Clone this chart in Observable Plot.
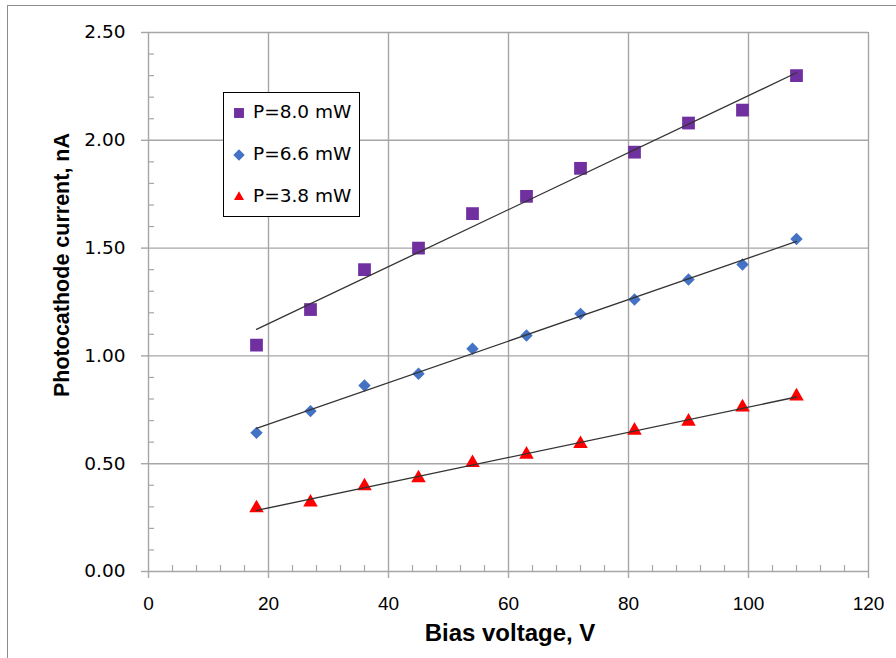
<!DOCTYPE html>
<html><head><meta charset="utf-8">
<script src="https://cdn.jsdelivr.net/npm/d3@7"></script>
<script src="https://cdn.jsdelivr.net/npm/@observablehq/plot@0.6"></script>
<style>
html,body{margin:0;padding:0;background:#fff;overflow:hidden;}
#wrap{position:relative;width:896px;height:658px;overflow:hidden;}
#frame{position:absolute;left:7px;top:5px;width:1000px;height:1000px;border-left:1.5px solid #8c8c8c;border-top:1.5px solid #8c8c8c;}
#legend{position:absolute;left:223px;top:92px;width:135px;height:123px;border:1px solid #000;background:#fff;font-family:"DejaVu Sans",Verdana,sans-serif;font-size:18.5px;color:#000;}
#legend .item{position:absolute;left:0;height:20px;}
#legend svg{position:absolute;left:6px;top:0;}
#legend span{position:absolute;left:29px;top:-1px;white-space:nowrap;line-height:20px;}
</style></head><body>
<div id="wrap"><div id="frame"></div><div id="chart"></div><div id="legend"></div></div>
<script>
const voltages = [18, 27, 36, 45, 54, 63, 72, 81, 90, 99, 108];
const current80 = [1.05, 1.215, 1.40, 1.50, 1.66, 1.74, 1.87, 1.945, 2.08, 2.14, 2.30];
const current66 = [0.643, 0.744, 0.863, 0.917, 1.033, 1.095, 1.195, 1.262, 1.354, 1.424, 1.542];
const current38 = [0.294, 0.321, 0.396, 0.433, 0.504, 0.543, 0.592, 0.654, 0.696, 0.762, 0.813];
const seriesNames = ["P=8.0 mW", "P=6.6 mW", "P=3.8 mW"];
const seriesColors = ["#7030A0", "#4472C4", "#FF0000"];
const seriesSymbols = ["square", "diamond2", "triangle"];
const xTicks = [0, 20, 40, 60, 80, 100, 120];
const xMinor = d3.range(0, 121, 4).filter(v => v % 20 !== 0);
const yTicks = [0, 0.5, 1.0, 1.5, 2.0, 2.5];
const yMinor = d3.range(1, 25).map(v => v / 10).filter(v => Math.round(v * 10) % 5 !== 0);
const xTitle = "Bias voltage, V";
const yTitle = "Photocathode current, nA";

const seriesValues = [current80, current66, current38];
const data = [];
seriesNames.forEach((s, k) => voltages.forEach((v, i) => data.push({series: s, V: v, I: seriesValues[k][i]})));

const gridColor = "#a6a6a6";
const symbolR = {"P=8.0 mW": 7.2, "P=6.6 mW": 5.6, "P=3.8 mW": 5.4};

const plot = Plot.plot({
  width: 896, height: 658,
  marginLeft: 148, marginRight: 28, marginTop: 32, marginBottom: 87,
  x: {domain: [0, 120]},
  y: {domain: [0, 2.5]},
  color: {domain: seriesNames, range: seriesColors},
  symbol: {domain: seriesNames, range: seriesSymbols},
  style: {background: "transparent", fontFamily: "'DejaVu Sans', sans-serif"},
  marks: [
    Plot.gridX(xTicks.slice(1), {stroke: gridColor, strokeOpacity: 1, strokeWidth: 1.4}),
    Plot.gridY(yTicks.slice(1), {stroke: gridColor, strokeOpacity: 1, strokeWidth: 1.4}),
    Plot.axisX(xMinor, {tickSize: 6, dy: -6, tickFormat: () => "", label: null, stroke: gridColor, strokeWidth: 1.2}),
    Plot.axisY(yMinor, {tickSize: 6, dx: 6, tickFormat: () => "", label: null, stroke: gridColor, strokeWidth: 1.2}),
    Plot.axisX(xTicks, {tickSize: 7, tickPadding: 18, label: null, stroke: gridColor, strokeWidth: 1.4,
      fontFamily: "'Liberation Sans', Arial, sans-serif", fontSize: 19, fill: "#000"}),
    Plot.axisY(yTicks, {tickSize: 7, tickPadding: 16, label: null, stroke: gridColor, strokeWidth: 1.4,
      tickFormat: d3.format(".2f"), fontFamily: "'DejaVu Sans', sans-serif", fontSize: 18.5, fill: "#000"}),
    Plot.ruleX([0], {stroke: gridColor, strokeWidth: 1.4}),
    Plot.ruleY([0], {stroke: gridColor, strokeWidth: 1.4}),
    ...seriesNames.map(s => Plot.dot(data.filter(d => d.series === s), {
      x: "V", y: "I", fill: "series", symbol: "series", r: symbolR[s], stroke: "none"
    })),
    Plot.linearRegressionY(data, {x: "V", y: "I", z: "series", stroke: "#333", strokeWidth: 1.3, ci: 0})
  ]
});

const svg = d3.select(plot);
svg.append("text")
  .attr("transform", "translate(69,265) rotate(-90)")
  .attr("text-anchor", "middle")
  .attr("font-family", "'Liberation Sans', Arial, sans-serif")
  .attr("font-weight", "bold").attr("font-size", 21.5).attr("fill", "#000")
  .text(yTitle);
svg.append("text")
  .attr("x", 510).attr("y", 641)
  .attr("text-anchor", "middle")
  .attr("font-family", "'Liberation Sans', Arial, sans-serif")
  .attr("font-weight", "bold").attr("font-size", 24).attr("fill", "#000")
  .text(xTitle);

document.getElementById("chart").append(plot);

// legend
const legend = d3.select("#legend");
const legendTops = [10, 52, 94];
seriesNames.forEach((s, k) => {
  const item = legend.append("div").attr("class", "item").style("top", legendTops[k] + "px");
  const sym = item.append("svg").attr("width", 18).attr("height", 20);
  const symType = {square: d3.symbolSquare, diamond2: d3.symbolDiamond2, triangle: d3.symbolTriangle2}[seriesSymbols[k]];
  const rr = [5.6, 5.2, 4.8][k];
  sym.append("path").attr("transform", "translate(9,10)")
    .attr("d", d3.symbol(symType, Math.PI * rr * rr)())
    .attr("fill", seriesColors[k]);
  item.append("span").text(s);
});
</script></body></html>
